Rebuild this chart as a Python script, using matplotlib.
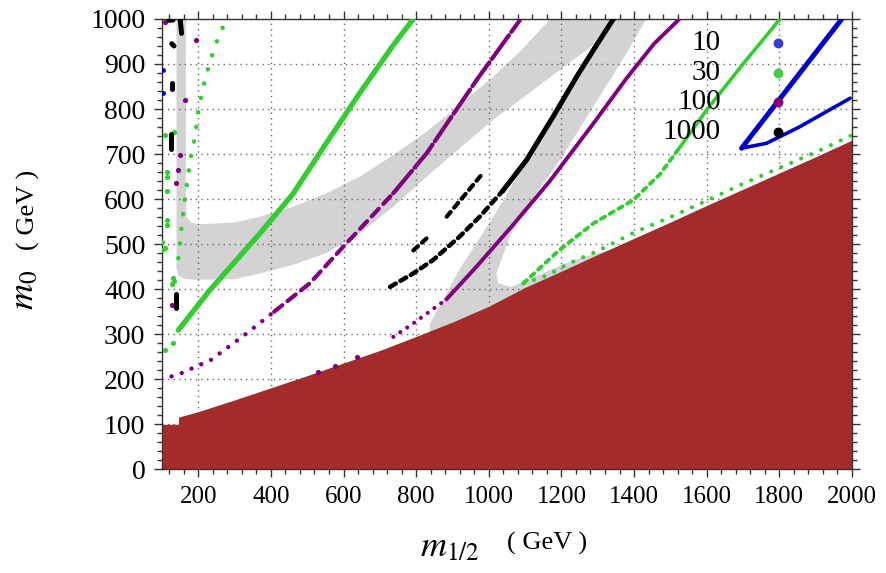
import numpy as np
import matplotlib
matplotlib.use('Agg')
import matplotlib.pyplot as plt
from matplotlib.ticker import MultipleLocator

plt.rcParams['font.family'] = ['Liberation Serif', 'DejaVu Serif']
plt.rcParams['mathtext.fontset'] = 'stix'

# ---- excluded region (upper boundary of the filled area) ----
red_x = [100, 145, 146, 200, 300, 400, 500, 600, 700, 800, 900, 1000, 1100,
         1200, 1300, 1400, 1500, 1600, 1700, 1800, 1900, 2000]
red_y = [100, 100, 116, 128, 154, 181, 208, 236, 264, 295, 327, 362, 404,
         440, 477, 513, 549, 586, 622, 658, 694, 731]

# ---- grey allowed bands ----
band1_x = [140, 140, 145, 160, 186, 300, 370, 461, 553, 645, 737, 829, 920, 1012,
           1104, 1196, 1288, 1320, 1168, 1150, 1085, 1012, 920, 829, 737, 645,
           553, 461, 370, 300, 200, 180, 168, 166, 166]
band1_y = [1000, 445, 430, 424, 421, 422, 435, 454, 480, 524, 583, 650, 713, 776,
           831, 887, 942, 1000, 1000, 983, 927, 872, 809, 750, 698, 650,
           613, 583, 561, 548, 544, 548, 560, 600, 1000]

band2_x = [810, 838, 880, 920, 960, 1012, 1060, 1104, 1177, 1242, 1288, 1320, 1434,
           1379, 1288, 1196, 1104, 1058, 1021, 1026, 1060, 1060, 810]
band2_y = [0, 324, 385, 445, 495, 560, 625, 687, 783, 864, 942, 1000, 1000,
           924, 805, 687, 583, 517, 435, 413, 405, 0, 0]

strip_x = [1026, 1060, 1100, 1150, 1200, 1250, 1300, 1320]
strip_y = [409, 406, 420, 438, 455, 470, 482, 484]

# ---- contour points ----
green_a_x = [145, 232, 370, 461, 553, 645, 737, 792]
green_a_y = [309, 398, 524, 612, 725, 836, 942, 1000]

green_b_x = [145, 150, 154, 163, 177, 191, 200, 214, 232, 251, 278]
green_b_y = [469, 505, 539, 598, 683, 739, 794, 850, 905, 950, 1001]

green_c_x = [1095, 1196, 1288, 1398, 1471, 1527, 1600, 1700, 1802]
green_c_y = [413, 488, 546, 598, 655, 716, 798, 900, 1000]

green_d_x = [1096, 1160, 1215, 1300, 1398, 1500, 1609, 1700, 1794, 1900, 2000]
green_d_y = [413, 430, 455, 485, 525, 560, 600, 634, 667, 704, 742]

green_pts_x = [108, 113, 113, 113, 113, 113, 99, 99, 108, 134, 131, 128, 134, 131, 108]
green_pts_y = [742, 660, 650, 617, 553, 543, 505, 487, 491, 750, 424, 412, 418, 280, 265]

purple_a_x = [98, 144, 235, 327, 409]
purple_a_y = [200, 210, 243, 298, 350]
purple_b_x = [409, 507, 599, 737]
purple_b_y = [350, 413, 494, 613]
purple_c_x = [737, 829, 966, 1086]
purple_c_y = [613, 702, 864, 998]

purple_d_x = [531, 577, 637]
purple_d_y = [215, 230, 250]
purple_e_x = [737, 792, 884]
purple_e_y = [294, 324, 378]
purple_f_x = [884, 966, 1067, 1168, 1288, 1379, 1455, 1525]
purple_f_y = [378, 450, 543, 640, 768, 868, 945, 1000]

purple_pts_x = [108, 195, 163, 150, 145, 140, 127]
purple_pts_y = [993, 953, 820, 697, 665, 635, 365]

black_a_x = [728, 792, 847, 920, 975, 1040]
black_a_y = [405, 435, 465, 517, 561, 620]
black_b_x = [1040, 1104, 1177, 1242, 1288, 1343]
black_b_y = [620, 687, 783, 872, 931, 1000]

black_c_x = [[792, 829], [884, 980]]
black_c_y = [[486, 513], [561, 654]]

black_segs_x = [[150, 154], [120, 131], [127, 133], [129, 129], [124, 124], [140, 140], [145, 145], [139, 139]]
black_segs_y = [[1000, 968], [997, 998], [945, 940], [858, 845], [745, 712], [390, 358], [780, 780], [483, 483]]

blue_x = [1972, 1696, 1765, 1857, 1995]
blue_y = [1000, 713, 724, 761, 824]
blue_pts_x = [104, 104]
blue_pts_y = [886, 835]

legend_labels = ['10', '30', '100', '1000']
legend_colors = ['#3a3ad6', '#44cc44', '#800080', '#000000']
legend_y = [947, 880, 815, 749]

GREEN = '#33cc33'
PURPLE = '#800080'
BLUE = '#0000cc'
GREY = '#d3d3d3'
RED = '#a52a2a'

fig = plt.figure(figsize=(8.86, 5.73), dpi=100)
ax = fig.add_axes([0.1828, 0.181, 0.7788, 0.7859])

ax.fill(band1_x, band1_y, color=GREY, lw=0, zorder=1)
ax.fill(band2_x, band2_y, color=GREY, lw=0, zorder=1)
ax.fill_between(strip_x, 0, strip_y, color=GREY, lw=0, zorder=1)
ax.fill_between(red_x, 0, red_y, color=RED, lw=0, zorder=2)


def dotted(x, y, color, lw=3.2, gap=3.0):
    ax.plot(x, y, color=color, lw=lw, ls=(0, (0.01, gap)),
            dash_capstyle='round', zorder=3)


def dashed(x, y, color, lw=3.0, on=3.0, off=0.8):
    ax.plot(x, y, color=color, lw=lw, ls=(0, (on, off)),
            dash_capstyle='round', zorder=3)


# green
ax.plot(green_a_x, green_a_y, color=GREEN, lw=3.8, solid_capstyle='round', zorder=3)
dotted(green_b_x, green_b_y, GREEN, lw=3.3, gap=3.2)
ax.plot(green_c_x[5:], green_c_y[5:], color=GREEN, lw=2.6, zorder=3)
dashed(green_c_x[:6], green_c_y[:6], GREEN, lw=2.8, on=1.2, off=1.4)
dotted(green_d_x, green_d_y, GREEN, lw=3.0, gap=2.6)
ax.scatter(green_pts_x, green_pts_y, s=14, color=GREEN, lw=0, zorder=3)

# purple
dotted(purple_a_x, purple_a_y, PURPLE, lw=3.2, gap=2.4)
dashed(purple_b_x, purple_b_y, PURPLE, lw=3.0, on=2.5, off=1.6)
dashed(purple_c_x, purple_c_y, PURPLE, lw=3.0, on=7, off=1.0)
ax.scatter(purple_d_x, purple_d_y, s=14, color=PURPLE, lw=0, zorder=3)
dotted(purple_e_x, purple_e_y, PURPLE, lw=3.0, gap=2.0)
ax.plot(purple_f_x, purple_f_y, color=PURPLE, lw=2.8, zorder=3)
ax.scatter(purple_pts_x, purple_pts_y, s=14, color=PURPLE, lw=0, zorder=3)

# black
dashed(black_a_x, black_a_y, 'black', lw=3.2, on=1.5, off=1.2)
ax.plot(black_b_x, black_b_y, color='black', lw=3.6, zorder=3)
for xs, ys in zip(black_c_x, black_c_y):
    dashed(xs, ys, 'black', lw=3.0, on=1.5, off=1.3)
for xs, ys in zip(black_segs_x, black_segs_y):
    ax.plot(xs, ys, color='black', lw=3.6, solid_capstyle='round', zorder=3)

# blue
ax.plot(blue_x[:2], blue_y[:2], color=BLUE, lw=3.6, solid_capstyle='round', zorder=3)
ax.plot(blue_x[1:], blue_y[1:], color=BLUE, lw=2.6, solid_capstyle='round', zorder=3)
ax.scatter(blue_pts_x, blue_pts_y, s=12, color=BLUE, lw=0, zorder=3)

# legend written inside the frame
for lab, col, yy in zip(legend_labels, legend_colors, legend_y):
    ax.text(1639, yy, lab, ha='right', va='center', fontsize=21, zorder=4)
    ax.scatter([1796], [yy], s=50, color=col, lw=0, zorder=4)

ax.set_xlim(100, 2000)
ax.set_ylim(0, 1000)
ax.xaxis.set_major_locator(MultipleLocator(200))
ax.xaxis.set_minor_locator(MultipleLocator(40))
ax.yaxis.set_major_locator(MultipleLocator(100))
ax.yaxis.set_minor_locator(MultipleLocator(20))
ax.tick_params(which='both', direction='out', top=True, right=True, width=1.0, color='#333333')
ax.tick_params(which='major', length=6)
ax.tick_params(which='minor', length=3.5)
ax.tick_params(axis='x', labelsize=18, pad=6)
ax.tick_params(axis='y', labelsize=20, pad=6)
for s in ax.spines.values():
    s.set_linewidth(1.0)
    s.set_color('#333333')

ax.set_axisbelow('line')
ax.grid(True, which='major', color='#666666', lw=1.0, ls=(0, (1, 3)))

fig.text(0.508, 0.044, r'$m_{1/2}$', fontsize=26, ha='center', va='center')
fig.text(0.618, 0.052, '( GeV )', fontsize=19, ha='center', va='center')
fig.text(0.028, 0.494, r'$m_0$', fontsize=26, ha='center', va='center', rotation=90)
fig.text(0.032, 0.633, '( GeV )', fontsize=19, ha='center', va='center', rotation=90)

fig.savefig('out.png', dpi=100)
